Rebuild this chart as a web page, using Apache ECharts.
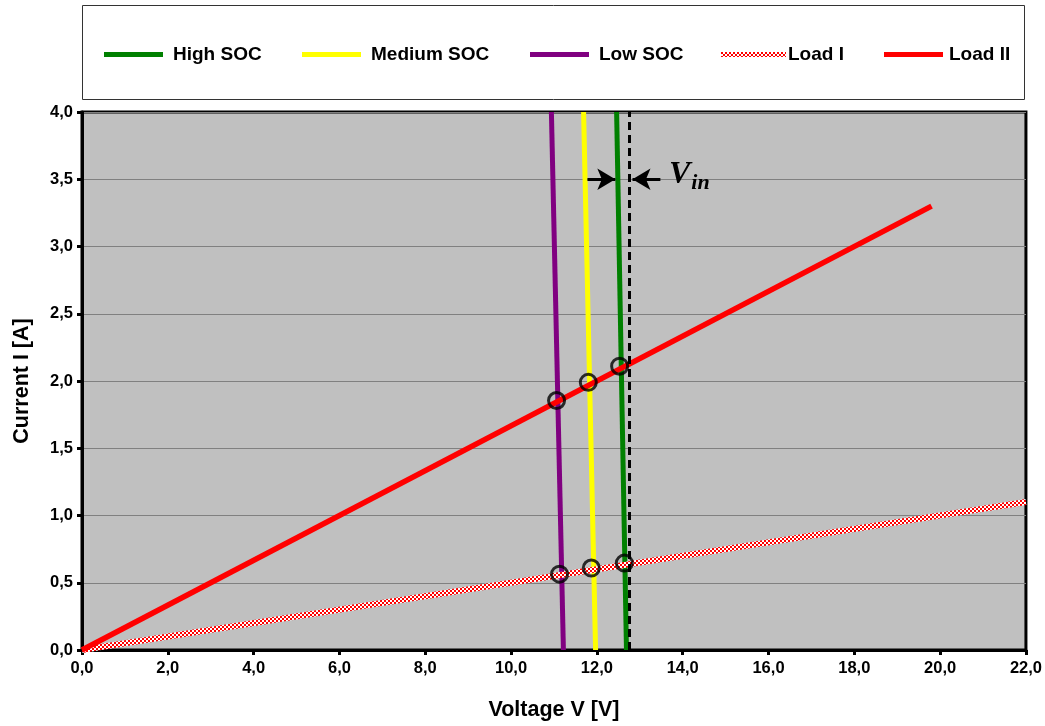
<!DOCTYPE html>
<html><head><meta charset="utf-8">
<script src="https://cdn.jsdelivr.net/npm/echarts@6/dist/echarts.min.js"></script>
<style>html,body{margin:0;padding:0;background:#fff}#c{width:1045px;height:726px}</style>
</head><body><div id="c"></div>
<script>
// Data (Voltage V, Current I)
const currentRange = [0, 4.0];
const highSOC_V = [12.69, 12.46];
const mediumSOC_V = [11.97, 11.69];
const lowSOC_V = [11.22, 10.94];
const loadI_V = [0, 22.0];
const loadI_I = [0, 1.1];
const loadII_V = [0, 19.8];
const loadII_I = [0, 3.3];
const vin_V = 12.76;
const opPoint_V = [11.06, 11.80, 12.53, 11.13, 11.87, 12.64];
const opPoint_I = [1.855, 1.99, 2.11, 0.564, 0.609, 0.646];
const arrowLeft = [[11.78, 3.5], [12.43, 3.5]];
const arrowRight = [[13.48, 3.5], [12.83, 3.5]];
const vinLabelPos = [13.68, 3.5];

const pair = (xs, ys) => xs.map((x, i) => [x, ys[i]]);

// checkered pattern
const pc = document.createElement('canvas');
pc.width = 4; pc.height = 4;
const pctx = pc.getContext('2d');
pctx.fillStyle = '#fff'; pctx.fillRect(0,0,4,4);
pctx.fillStyle = '#ff0000'; pctx.fillRect(0,0,2,2); pctx.fillRect(2,2,2,2);
const checker = {image: pc, repeat: 'repeat'};

const fmt = v => v.toFixed(1).replace('.', ',');
const font = 'Liberation Sans, Arial, sans-serif';
const serif = 'Liberation Serif, Times New Roman, serif';

const chart = echarts.init(document.getElementById('c'), null, {renderer: 'canvas'});

function lg(name, left, color, w, gap) {
  return {
    data: [{name: name, itemStyle: {color: color}}],
    left: left, top: 45, itemWidth: w, itemHeight: 5, icon: 'rect', padding: 0,
    selectedMode: false,
    textStyle: {fontFamily: font, fontWeight: 'bold', fontSize: 19, color: '#000', padding: [0,0,0,gap]}
  };
}

chart.setOption({
  animation: false,
  backgroundColor: '#fff',
  graphic: [{type: 'rect', shape: {x: 82.5, y: 5.5, width: 942, height: 94}, style: {fill: '#fff', stroke: '#333', lineWidth: 1}, z: -10}],
  legend: [
    lg('High SOC', 104, '#008000', 59, 5),
    lg('Medium SOC', 302, '#ffff00', 59, 5),
    lg('Low SOC', 530, '#800080', 59, 5),
    lg('Load I', 721, checker, 65, -3),
    lg('Load II', 884, '#ff0000', 59, 1)
  ],
  grid: {left: 82, right: 18, top: 112, bottom: 75, show: true, backgroundColor: '#c0c0c0', borderColor: '#000', borderWidth: 3},
  xAxis: {
    type: 'value', min: 0, max: 22, interval: 2,
    name: 'Voltage V [V]', nameLocation: 'middle', nameGap: 49,
    nameTextStyle: {fontFamily: font, fontWeight: 'bold', fontSize: 21.5, color: '#000'},
    axisLine: {show: true, onZero: false, lineStyle: {color: '#000', width: 3}},
    axisTick: {show: true, length: 5, lineStyle: {color: '#000', width: 3}},
    axisLabel: {formatter: fmt, fontFamily: font, fontWeight: 'bold', fontSize: 16.5, color: '#000', margin: 10},
    splitLine: {show: false}
  },
  yAxis: {
    type: 'value', min: 0, max: 4, interval: 0.5,
    name: 'Current I [A]', nameLocation: 'middle', nameGap: 49, nameRotate: 90,
    nameTextStyle: {fontFamily: font, fontWeight: 'bold', fontSize: 21.5, color: '#000'},
    axisLine: {show: true, onZero: false, lineStyle: {color: '#000', width: 3}},
    axisTick: {show: true, length: 5, lineStyle: {color: '#000', width: 3}},
    axisLabel: {formatter: fmt, fontFamily: font, fontWeight: 'bold', fontSize: 16.5, color: '#000', margin: 9},
    splitLine: {show: true, lineStyle: {color: '#808080', width: 1}}
  },
  series: [
    {name: 'Low SOC', type: 'line', data: pair(lowSOC_V, currentRange), showSymbol: false, lineStyle: {color: '#800080', width: 5}, itemStyle: {color: '#800080'}, z: 2},
    {name: 'Medium SOC', type: 'line', data: pair(mediumSOC_V, currentRange), showSymbol: false, lineStyle: {color: '#ffff00', width: 5}, itemStyle: {color: '#ffff00'}, z: 2},
    {name: 'High SOC', type: 'line', data: pair(highSOC_V, currentRange), showSymbol: false, lineStyle: {color: '#008000', width: 5}, itemStyle: {color: '#008000'}, z: 2},
    {name: 'Load I', type: 'line', data: pair(loadI_V, loadI_I), showSymbol: false, lineStyle: {color: checker, width: 6}, itemStyle: {color: checker}, z: 3},
    {name: 'Load II', type: 'line', data: pair(loadII_V, loadII_I), showSymbol: false, lineStyle: {color: '#ff0000', width: 5.5}, itemStyle: {color: '#ff0000'}, z: 3},
    {name: 'Vin', type: 'line', data: pair([vin_V, vin_V], currentRange), showSymbol: false, lineStyle: {color: '#000', width: 3, type: [8, 5]}, z: 4,
      markLine: {
        silent: true, symbol: ['none', 'arrow'], symbolSize: [16, 18],
        lineStyle: {color: '#000', width: 3, type: 'solid'}, label: {show: false},
        data: [[{coord: arrowLeft[0]}, {coord: arrowLeft[1]}], [{coord: arrowRight[0]}, {coord: arrowRight[1]}]]
      },
      markPoint: {
        silent: true, symbol: 'circle', symbolSize: 0,
        data: [{coord: vinLabelPos}],
        label: {show: true, position: 'right', distance: 0, offset: [0, -5], formatter: '{v|V}{s|in}',
          rich: {v: {fontFamily: serif, fontStyle: 'italic', fontWeight: 'bold', fontSize: 32, color: '#000', verticalAlign: 'bottom'},
                 s: {fontFamily: serif, fontStyle: 'italic', fontWeight: 'bold', fontSize: 22, color: '#000', verticalAlign: 'bottom', padding: [0, 0, -4, 1]}}}
      }
    },
    {name: 'Points', type: 'scatter', data: pair(opPoint_V, opPoint_I), symbol: 'circle', symbolSize: 16,
      itemStyle: {color: 'rgba(0,0,0,0)', borderColor: '#000', borderWidth: 3}, z: 5}
  ]
});
</script></body></html>
